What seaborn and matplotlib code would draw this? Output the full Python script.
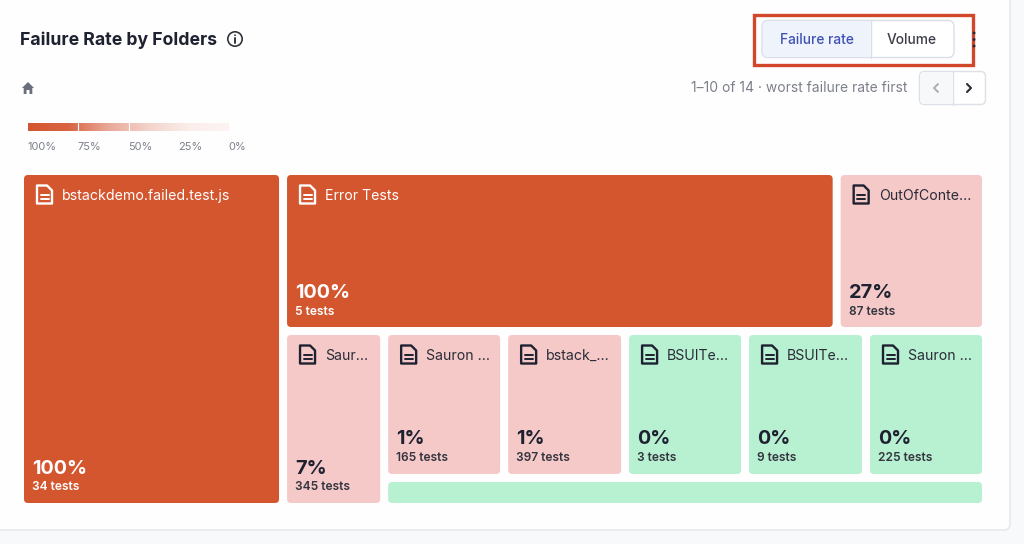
import numpy as np
import matplotlib
matplotlib.use("Agg")
import matplotlib.pyplot as plt
from matplotlib.patches import FancyBboxPatch, Polygon, Circle, Rectangle
import seaborn as sns

# ---- data
folders = ["bstackdemo.failed.test.js", "Error Tests", "OutOfConte...", "Saur...", "Sauron ...",
           "bstack_...", "BSUITe...", "BSUITe...", "Sauron ...", ""]
failure_pct = [100, 100, 27, 7, 1, 1, 0, 0, 0, 0]
test_counts = [34, 5, 87, 345, 165, 397, 3, 9, 225, None]
# on-screen tile weight of each folder (relative tile area)
tile_weights = [88400, 88600, 23900, 17800, 17640, 17780, 17640, 17780, 17640, 17460]
legend_labels = ["100%", "75%", "50%", "25%", "0%"]
legend_stops = [100, 75, 50, 25, 0]
title = "Failure Rate by Folders"
toggle_labels = ["Failure rate", "Volume"]
pager_text = "1\u201310 of 14 \u00b7 worst failure rate first"

sns.set_theme(style="white")
plt.rcParams["font.family"] = ["Inter", "DejaVu Sans"]

HOT, PINK, GREEN = "#D4562F", "#F6C9C9", "#B8F0D2"
INK, GREY = "#1E2130", "#7C808A"

fig = plt.figure(figsize=(10.24, 5.44), dpi=100, facecolor="#F8F9FB")
ax = fig.add_axes([0, 0, 1, 1])
ax.set_xlim(0, 1024)
ax.set_ylim(544, 0)
ax.axis("off")


def rrect(x0, y0, x1, y1, r=4, fc="white", ec="none", lw=0, z=1):
    p = FancyBboxPatch((x0 + r, y0 + r), x1 - x0 - 2 * r, y1 - y0 - 2 * r,
                       boxstyle=f"round,pad={r},rounding_size={r}", fc=fc, ec=ec, lw=lw, zorder=z)
    ax.add_patch(p)


def file_icon(x, y, col):
    w, h, c = 15, 18, 5
    ax.add_patch(Polygon([(x, y), (x + w - c, y), (x + w, y + c), (x + w, y + h), (x, y + h)],
                         closed=True, fc="none", ec=col, lw=1.7, joinstyle="round", zorder=4))
    ax.plot([x + 3.5, x + w - 3.5], [y + 9.5, y + 9.5], color=col, lw=1.4, zorder=4)
    ax.plot([x + 3.5, x + w - 3.5], [y + 13.5, y + 13.5], color=col, lw=1.4, zorder=4)


# ---- card
rrect(-10, -10, 1010, 530, r=6, fc="#FEFEFE", ec="#E4E6EB", lw=1, z=0)

# ---- header
ax.text(20, 40, title, fontsize=12.7, fontweight="bold", color=INK, va="center", ha="left")
ax.add_patch(Circle((235, 39), 7.2, fc="none", ec="#33363F", lw=1.2))
ax.plot([235, 235], [38, 43], color="#33363F", lw=1.4)
ax.add_patch(Circle((235, 35.2), 0.9, fc="#33363F", ec="none"))

# home icon
ax.add_patch(Polygon([(22, 88), (28, 82), (34, 88), (32.3, 88), (32.3, 94), (29.5, 94), (29.5, 90),
                      (26.5, 90), (26.5, 94), (23.7, 94), (23.7, 88)], closed=True, fc="#6B6F7B", ec="none"))

# toggle
rrect(762, 20.5, 954, 57.5, r=6, fc="white", ec="#DADEE8", lw=1, z=2)
ax.add_patch(Rectangle((768, 21.2), 102, 35.6, fc="#EEF3FC", ec="none", zorder=2))
rrect(763, 21.2, 790, 56.8, r=5, fc="#EEF3FC", z=2)
ax.plot([870.5, 870.5], [20.5, 57.5], color="#DADEE8", lw=1, zorder=3)
ax.text(816.5, 39.5, toggle_labels[0], fontsize=9.9, fontweight="medium", color="#3F51B5", ha="center", va="center", zorder=3)
ax.text(912, 39.5, toggle_labels[1], fontsize=9.9, fontweight="medium", color="#3B3E48", ha="center", va="center", zorder=3)
ax.add_patch(Rectangle((754, 14.5), 219, 50.5, fc="none", ec="#D2472A", lw=2.4, zorder=5))
for yy in (33, 39.5, 46):
    ax.add_patch(Circle((974, yy), 1.5, fc="#2B2E38", ec="none", zorder=6))

# pager
ax.text(907, 88.5, pager_text, fontsize=10, color=GREY, ha="right", va="center")
rrect(919.5, 71.5, 985.5, 104.5, r=5, fc="white", ec="#DDE0E6", lw=1, z=2)
rrect(920.2, 72.2, 952, 103.8, r=4, fc="#F7F8FA", z=2)
ax.plot([952.5, 952.5], [71.5, 104.5], color="#DDE0E6", lw=1, zorder=3)
ax.plot([938, 934, 938], [84, 88, 92], color="#A6AAB3", lw=1.3, zorder=3)
ax.plot([967, 971, 967], [84, 88, 92], color="#2B2E38", lw=1.5, zorder=3)

# ---- legend gradient as a seaborn heatmap
legend_cmap = sns.blend_palette(["#D4562F", "#D76444", "#E9A897", "#F3D2CA", "#FAEDEA", "#FCF3F1"], n_colors=200, as_cmap=True)
pos = ax.transData.transform([(28, 131), (229, 123)])
inv = fig.transFigure.inverted()
(f0, g0), (f1, g1) = inv.transform(pos)
cax = fig.add_axes([f0, g0, f1 - f0, g1 - g0])
cax.set_zorder(2)
ramp = np.linspace(legend_stops[0], legend_stops[-1], 201).reshape(1, -1)
sns.heatmap(ramp, ax=cax, cmap=legend_cmap.reversed(), vmin=0, vmax=100, cbar=False,
            xticklabels=False, yticklabels=False)
for frac in (0.25, 0.5):
    cax.axvline(frac * 201, color="white", lw=0.8)
cax.axvline(200.6, color="#DFE0E3", lw=0.8)
for lab, xx in zip(legend_labels, (27.5, 78, 128, 178, 228)):
    ax.text(xx, 146.5, lab, fontsize=7.9, color=GREY, ha="left", va="center")


# ---- treemap layout (slice and dice from the weights)
def split(idx, box, horizontal):
    """Divide box between groups of tiles in proportion to their weights."""
    x0, y0, x1, y1 = box
    total = sum(tile_weights[i] for g in idx for i in g)
    out, start = [], (x0 if horizontal else y0)
    for g in idx:
        frac = sum(tile_weights[i] for i in g) / total
        if horizontal:
            end = start + frac * (x1 - x0)
            out.append((start, y0, end, y1))
        else:
            end = start + frac * (y1 - y0)
            out.append((x0, start, x1, end))
        start = end
    return out


outer = (24, 175, 990, 511)  # drawing area, each tile keeps an 8px gutter right and below
grid = [4, 5, 6, 7, 8]
left, right = split([[0], [1, 2, 3] + grid + [9]], outer, True)
top, bottom = split([[1, 2], [3] + grid + [9]], right, False)
b_err, b_out = split([[1], [2]], top, True)
b_saur, b_rest = split([[3], grid + [9]], bottom, True)
row, strip = split([grid, [9]], b_rest, False)
row_boxes = split([[i] for i in grid], row, True)
boxes = dict(zip([0, 1, 2, 3, 9] + grid, [left, b_err, b_out, b_saur, strip] + row_boxes))


def tile_colour(p):
    if p >= 50:
        return HOT
    return PINK if p > 0 else GREEN


for i, name in enumerate(folders):
    x0, y0, x1, y1 = boxes[i]
    x1 -= 8
    y1 -= 8
    rrect(x0, y0, x1, y1, r=4, fc=tile_colour(failure_pct[i]), z=2)
    if not name:
        continue
    col = "white" if failure_pct[i] >= 50 else INK
    file_icon(x0 + 13, y0 + 10.5, col)
    ax.text(x0 + 38, y0 + 21, name, fontsize=10.2, color=col if col == "white" else "#2A2C38",
            ha="left", va="center", zorder=4)
    ax.text(x0 + 8, y1 - 34.5, f"{failure_pct[i]}%", fontsize=14.3, fontweight="bold", color=col,
            ha="left", va="center", zorder=4)
    ax.text(x0 + 8, y1 - 15.5, f"{test_counts[i]} tests", fontsize=8.6, fontweight="semibold",
            color=col if col == "white" else "#33353F", ha="left", va="center", zorder=4)

fig.savefig("out.png", dpi=100, facecolor=fig.get_facecolor())
